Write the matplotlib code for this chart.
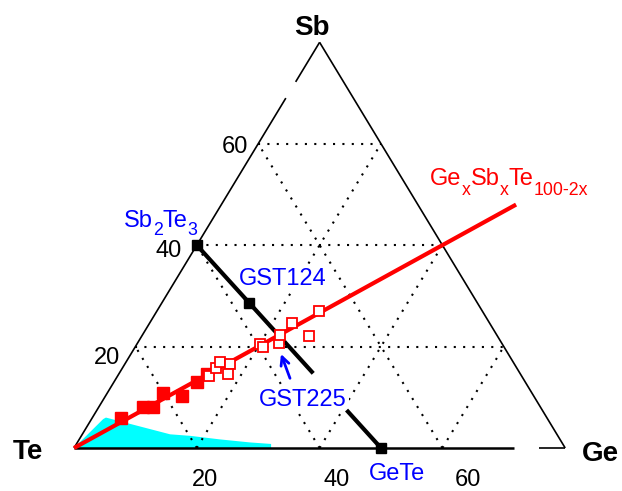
import matplotlib
matplotlib.use('Agg')
import matplotlib.pyplot as plt
from matplotlib.transforms import offset_copy

plt.rcParams['font.family'] = ['Liberation Sans', 'DejaVu Sans']

# ---------------- data (at.% Ge, at.% Sb; Te = 100 - Ge - Sb) ----------------
filled_ge = [4.7, 7.3, 8.9, 9.0, 12.4, 13.6, 14.3]
filled_sb = [5.9, 8.0, 8.0, 10.9, 10.3, 13.0, 14.6]
open_ge = [15.0, 15.2, 15.3, 17.1, 17.8, 20.0, 20.9, 23.0, 22.4, 23.2, 27.2, 26.4]
open_sb = [14.1, 15.7, 16.9, 16.6, 14.6, 20.5, 19.9, 20.7, 22.3, 24.6, 22.0, 27.0]
compound_names = ['Sb2Te3', 'GST124', 'GeTe']
compound_ge = [0.0, 100 / 7, 50.0]
compound_sb = [40.0, 200 / 7, 0.0]
cyan_ge = [0, 1.9, 2.2, 5.5, 9.9, 14.3, 17.7, 22.9, 28.1, 31.7, 32.1]
cyan_sb = [0, 5.7, 6.0, 5.1, 3.9, 2.7, 2.4, 1.7, 1.1, 0.8, 0]
line_x = [0, 48]          # Ge = Sb = x  (GexSbxTe100-2x)
grid_levels = [20, 40, 60]
tick_labels = ['20', '40', '60']
vertex_max = 80           # shown sub-triangle: Te >= 20

PX, PY = 6.14, 5.071      # pixels per unit (x = Ge + Sb/2, y = Sb)
X0, Y0 = 74, 448          # pixel position of Te vertex (from top-left)


def xy(ge, sb):
    ge = list(ge) if hasattr(ge, '__len__') else [ge]
    sb = list(sb) if hasattr(sb, '__len__') else [sb]
    return [g + s / 2 for g, s in zip(ge, sb)], list(sb)


def pix(px, py):
    return (px - X0) / PX, (Y0 - py) / PY


fig = plt.figure(figsize=(6.22, 4.91), dpi=100)
ax = fig.add_axes([0, 0, 1, 1])
ax.set_xlim(-X0 / PX, (622 - X0) / PX)
ax.set_ylim(-(491 - Y0) / PY, Y0 / PY)
ax.axis('off')
renderer = fig.canvas.get_renderer()


def rich_text(x, y, pieces, color, size, sub_scale=0.75, sub_drop=6.5):
    """pieces: list of (string, is_subscript); centred on x, baseline at y."""
    arts = []
    total = 0.0
    for s, sub in pieces:
        fs = size * sub_scale if sub else size
        t = ax.text(x, y, s, fontsize=fs, color=color, ha='left', va='baseline')
        w = t.get_window_extent(renderer).width * 72 / fig.dpi
        arts.append((t, sub, w))
        total += w
    cur = -total / 2
    for t, sub, w in arts:
        t.set_transform(offset_copy(ax.transData, fig=fig, x=cur,
                                    y=-sub_drop if sub else 0, units='points'))
        cur += w


# cyan region
cx, cy = xy(cyan_ge, cyan_sb)
ax.fill(cx, cy, color='#00FFFF', lw=0, zorder=1)

# dotted grid
dot = dict(color='black', lw=1.5, ls=(0, (1, 3.5)), zorder=1.5)
for L in grid_levels:
    ax.plot(*xy([0, vertex_max - L], [L, L]), **dot)          # const Sb
    ax.plot(*xy([L, L], [0, vertex_max - L]), **dot)          # const Ge
    ax.plot(*xy([L, 0], [0, L]), **dot)                       # const Te

# triangle edges (with gaps as in original)
edge = dict(color='black', lw=1.2, zorder=2, solid_capstyle='butt')
ax.plot(*xy([0, 0], [0, 69.0]), **edge)
ax.plot(*xy([0, 0], [72.2, vertex_max]), **edge)
ax.plot(*xy([vertex_max, 0], [0, vertex_max]), **edge)
ax.plot(*xy([0, 71.7], [0, 0]), color='black', lw=1.8, zorder=2, solid_capstyle='butt')
ax.plot(*xy([75.7, vertex_max], [0, 0]), **edge)

# red GexSbxTe100-2x line
ax.plot(*xy(line_x, line_x), color='red', lw=3, zorder=3, solid_capstyle='butt')

# black tie line Sb2Te3 - GeTe with gap behind GST225 label
g1, s1 = compound_ge[0], compound_sb[0]
g2, s2 = compound_ge[2], compound_sb[2]
for ta, tb in [(0, 0.632), (0.813, 1)]:
    ax.plot(*xy([g1 + (g2 - g1) * ta, g1 + (g2 - g1) * tb],
                [s1 + (s2 - s1) * ta, s1 + (s2 - s1) * tb]),
            color='black', lw=3, zorder=4, solid_capstyle='butt')

# markers
ax.plot(*xy(filled_ge, filled_sb), 's', color='red', ms=8, zorder=5)
ax.plot(*xy(open_ge, open_sb), 's', mfc='white', mec='red', ms=7, mew=1.3, zorder=5)
ax.plot(*xy(compound_ge, compound_sb), 's', color='black', ms=7, zorder=6)

# vertex labels
bold = dict(fontsize=20, fontweight='bold', ha='center', va='baseline')
ax.text(*pix(312, 35), 'Sb', **bold)
ax.text(*pix(28, 459), 'Te', **bold)
ax.text(*pix(600.5, 461), 'Ge', **bold)

# tick labels
tk = dict(fontsize=17, ha='center', va='baseline', color='black')
for lab, (px, py) in zip(tick_labels, [(107, 364), (168.5, 257), (234.5, 153)]):
    ax.text(*pix(px, py), lab, **tk)
for lab, px in zip(tick_labels, [205, 337, 468]):
    ax.text(*pix(px, 490.5), lab, fontsize=17, ha='center', va='bottom', color='black')

# compound labels
bl = dict(fontsize=17, ha='center', va='baseline', color='blue')
rich_text(*pix(160.5, 227), [('Sb', False), ('2', True), ('Te', False), ('3', True)],
          'blue', 17, sub_drop=6)
ax.text(*pix(282.5, 285), 'GST124', zorder=3.5,
        bbox=dict(facecolor='white', edgecolor='none', pad=1), **bl)
ax.text(*pix(303, 406), 'GST225', zorder=3.5,
        bbox=dict(facecolor='white', edgecolor='none', pad=1.5), **bl)
ax.text(*pix(397, 480), 'GeTe', **bl)
rich_text(*pix(509, 185), [('Ge', False), ('x', True), ('Sb', False), ('x', True),
                           ('Te', False), ('100-2x', True)], 'red', 17, sub_drop=7)

# arrow to GST225
ax.annotate('', xy=pix(281, 354), xytext=pix(290, 378.3),
            arrowprops=dict(arrowstyle='->,head_length=0.6,head_width=0.3',
                            color='blue', lw=2, shrinkA=0, shrinkB=0),
            zorder=7)

fig.savefig('out.png', dpi=100)
